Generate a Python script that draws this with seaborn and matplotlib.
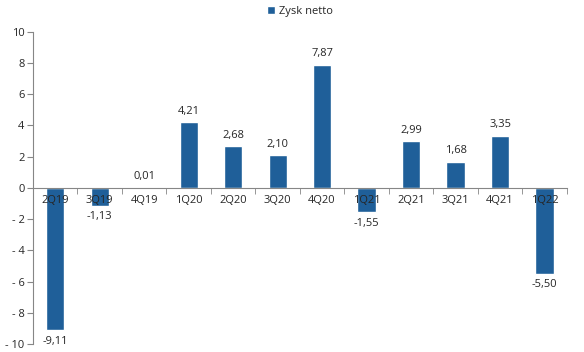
import numpy as np
import pandas as pd
import matplotlib
matplotlib.use("Agg")
import matplotlib.pyplot as plt
from matplotlib.ticker import FuncFormatter, FixedLocator
import seaborn as sns

# Data
quarters = ["2Q19", "3Q19", "4Q19", "1Q20", "2Q20", "3Q20",
            "4Q20", "1Q21", "2Q21", "3Q21", "4Q21", "1Q22"]
zysk_netto = [-9.11, -1.13, 0.01, 4.21, 2.68, 2.10,
              7.87, -1.55, 2.99, 1.68, 3.35, -5.50]
series_name = "Zysk netto"

BAR_COLOR = "#1F5F99"
AXIS_COLOR = "#868686"
FS = 8

sns.set_style("white")
plt.rcParams["font.family"] = ["Open Sans", "DejaVu Sans"]

df = pd.DataFrame({"kwartal": quarters, "wartosc": zysk_netto})

fig = plt.figure(figsize=(5.84, 3.52), dpi=100)
ax = fig.add_axes([0.0565, 0.022, 0.914, 0.888])

sns.barplot(data=df, x="kwartal", y="wartosc", color=BAR_COLOR,
            width=0.41, saturation=1, ax=ax, label=series_name)

ax.set_xlim(-0.5, len(quarters) - 0.5)
ax.set_ylim(-10, 10)
ax.set_yticks(np.arange(-10, 11, 2))
# category labels and axis line drawn over the bars, as in the original
ax.set_axisbelow(False)


def fmt_y(v, pos):
    v = int(round(v))
    return f"- {abs(v)}" if v < 0 else f"{v}"


ax.yaxis.set_major_formatter(FuncFormatter(fmt_y))
ax.set_xlabel("")
ax.set_ylabel("")

# spines
for s in ["top", "right"]:
    ax.spines[s].set_visible(False)
ax.spines["left"].set_color(AXIS_COLOR)
ax.spines["bottom"].set_color(AXIS_COLOR)
ax.spines["bottom"].set_position(("data", 0))

ax.tick_params(axis="y", direction="out", length=4, color=AXIS_COLOR,
               labelsize=FS, pad=2, left=True)
ax.tick_params(axis="x", which="major", length=0, labelsize=FS, pad=5)
ax.xaxis.set_minor_locator(FixedLocator(np.arange(0.5, len(quarters), 1.0)))
ax.tick_params(axis="x", which="minor", direction="out", length=4,
               color=AXIS_COLOR, bottom=True)

# data labels
labels = [f"{v:.2f}".replace(".", ",") for v in zysk_netto]
ax.bar_label(ax.containers[0], labels=labels, padding=4, fontsize=FS)

leg = ax.legend(loc="upper center", bbox_to_anchor=(0.5, 1.115), frameon=False,
                fontsize=FS, handlelength=0.7, handleheight=0.7,
                handletextpad=0.4)

fig.savefig("out.png", dpi=100)
